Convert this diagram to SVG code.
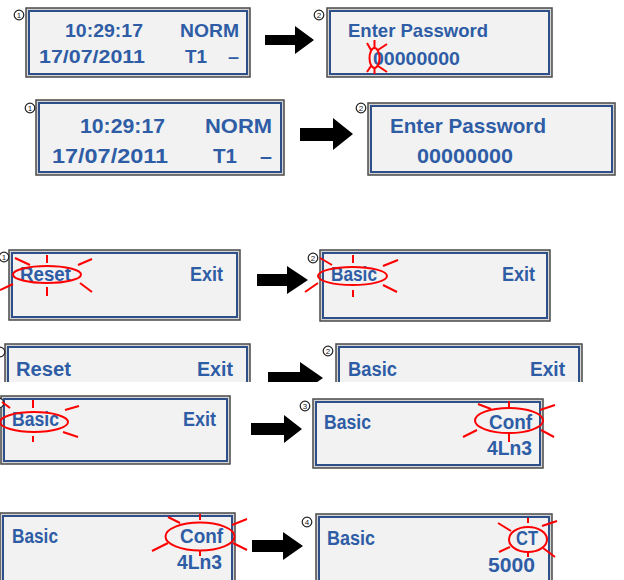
<svg xmlns="http://www.w3.org/2000/svg" width="624" height="580" viewBox="0 0 624 580">
<defs>
<style>
.ob{fill:#D4D4D4;stroke:#4A4A4A;stroke-width:1.5}
.ib{fill:#F2F2F2;stroke:#2F4F88;stroke-width:2}
.t{font-family:"Liberation Sans",Arial,sans-serif;font-weight:bold;fill:#2E5DA6;lengthAdjust:spacingAndGlyphs}
.n{fill:#fff;stroke:#222;stroke-width:1.2}
.nt{font-family:"Liberation Sans",Arial,sans-serif;font-size:8px;fill:#222;text-anchor:middle}
.hl{fill:none;stroke:#FF0000;stroke-width:2}
.ar{fill:#000}
</style>
<clipPath id="row4"><rect x="0" y="330" width="624" height="52"/></clipPath>
</defs>
<rect width="624" height="580" fill="#fff"/>

<g id="panel1">
<rect class="ob" x="26" y="8" width="224" height="69"/>
<rect class="ib" x="29" y="11" width="218" height="63"/>
<circle class="n" cx="19" cy="15" r="4.8"/><text class="nt" x="19" y="18">1</text>
<text class="t" font-size="18.5" x="65" y="37" textLength="78" lengthAdjust="spacingAndGlyphs">10:29:17</text>
<text class="t" font-size="18.5" x="180" y="37" textLength="59" lengthAdjust="spacingAndGlyphs">NORM</text>
<text class="t" font-size="18.5" x="39" y="63" textLength="106" lengthAdjust="spacingAndGlyphs">17/07/2011</text>
<text class="t" font-size="18.5" x="185" y="63" textLength="22" lengthAdjust="spacingAndGlyphs">T1</text>
<text class="t" font-size="18.5" x="228" y="63" textLength="11" lengthAdjust="spacingAndGlyphs">–</text>
</g>

<g id="panel2">
<rect class="ob" x="327" y="8" width="225" height="69"/>
<rect class="ib" x="330" y="11" width="219" height="63"/>
<circle class="n" cx="319" cy="15" r="4.8"/><text class="nt" x="319" y="18">2</text>
<text class="t" font-size="18.5" x="348" y="37" textLength="140" lengthAdjust="spacingAndGlyphs">Enter Password</text>
<text class="t" font-size="18.5" x="373" y="65" textLength="87" lengthAdjust="spacingAndGlyphs">00000000</text>
<g class="hl">
<ellipse cx="374.5" cy="58" rx="5" ry="10"/>
<line x1="367" y1="43" x2="371" y2="50"/><line x1="378" y1="50" x2="387" y2="44"/>
<line x1="367" y1="72" x2="371" y2="66"/><line x1="378" y1="66" x2="387" y2="72"/>
<line x1="374.5" y1="40" x2="374.5" y2="48"/><line x1="374.5" y1="68" x2="374.5" y2="74"/>
</g>
</g>

<g id="panel3">
<rect class="ob" x="36" y="100" width="248" height="75"/>
<rect class="ib" x="39" y="103" width="242" height="69"/>
<circle class="n" cx="30" cy="108" r="4.8"/><text class="nt" x="30" y="111">1</text>
<text class="t" font-size="21" x="80" y="133" textLength="85" lengthAdjust="spacingAndGlyphs">10:29:17</text>
<text class="t" font-size="21" x="205" y="133" textLength="67" lengthAdjust="spacingAndGlyphs">NORM</text>
<text class="t" font-size="21" x="52" y="163" textLength="116" lengthAdjust="spacingAndGlyphs">17/07/2011</text>
<text class="t" font-size="21" x="213" y="163" textLength="24" lengthAdjust="spacingAndGlyphs">T1</text>
<text class="t" font-size="21" x="260" y="163" textLength="12" lengthAdjust="spacingAndGlyphs">–</text>
</g>

<g id="panel4">
<rect class="ob" x="368" y="103" width="247" height="72"/>
<rect class="ib" x="371" y="106" width="241" height="66"/>
<circle class="n" cx="361" cy="108" r="4.8"/><text class="nt" x="361" y="111">2</text>
<text class="t" font-size="21" x="390" y="133" textLength="156" lengthAdjust="spacingAndGlyphs">Enter Password</text>
<text class="t" font-size="21" x="417" y="163" textLength="96" lengthAdjust="spacingAndGlyphs">00000000</text>
</g>

<g id="panel5">
<rect class="ob" x="9" y="250" width="231" height="70"/>
<rect class="ib" x="12" y="253" width="225" height="64"/>
<circle class="n" cx="4" cy="257" r="4.8"/><text class="nt" x="4" y="260">1</text>
<text class="t" font-size="20" x="20" y="281" textLength="51" lengthAdjust="spacingAndGlyphs">Reset</text>
<text class="t" font-size="20" x="190" y="281" textLength="33" lengthAdjust="spacingAndGlyphs">Exit</text>
<g class="hl">
<ellipse cx="47" cy="274.5" rx="34" ry="8.5"/>
<line x1="47" y1="255" x2="47" y2="263"/><line x1="47" y1="287" x2="47" y2="296"/>
<line x1="15" y1="258" x2="30" y2="265"/><line x1="78" y1="265" x2="92" y2="259"/>
<line x1="0" y1="290" x2="13" y2="284"/><line x1="80" y1="283" x2="92" y2="292"/>
</g>
</g>

<g id="panel6">
<rect class="ob" x="320" y="250" width="230" height="71"/>
<rect class="ib" x="323" y="253" width="224" height="65"/>
<circle class="n" cx="313" cy="258" r="4.8"/><text class="nt" x="313" y="261">2</text>
<text class="t" font-size="20" x="331" y="281" textLength="46" lengthAdjust="spacingAndGlyphs">Basic</text>
<text class="t" font-size="20" x="502" y="281" textLength="33" lengthAdjust="spacingAndGlyphs">Exit</text>
<g class="hl">
<ellipse cx="352.5" cy="276" rx="34.5" ry="9"/>
<line x1="353" y1="255" x2="353" y2="263"/><line x1="353" y1="290" x2="353" y2="297"/>
<line x1="320" y1="258" x2="332" y2="265"/><line x1="383" y1="266" x2="398" y2="260"/>
<line x1="305" y1="292" x2="318" y2="283"/><line x1="383" y1="285" x2="397" y2="292"/>
</g>
</g>

<g clip-path="url(#row4)">
<g id="panel7">
<rect class="ob" x="5" y="344" width="245" height="70"/>
<rect class="ib" x="8" y="347" width="239" height="64"/>
<circle class="n" cx="0" cy="352" r="4.8"/>
<text class="t" font-size="20" x="16" y="376" textLength="55" lengthAdjust="spacingAndGlyphs">Reset</text>
<text class="t" font-size="20" x="197" y="376" textLength="36" lengthAdjust="spacingAndGlyphs">Exit</text>
</g>
<g id="panel8">
<rect class="ob" x="336" y="344" width="246" height="70"/>
<rect class="ib" x="339" y="347" width="240" height="64"/>
<circle class="n" cx="328" cy="351" r="4.8"/><text class="nt" x="328" y="354">2</text>
<text class="t" font-size="20" x="348" y="376" textLength="49" lengthAdjust="spacingAndGlyphs">Basic</text>
<text class="t" font-size="20" x="530" y="376" textLength="35" lengthAdjust="spacingAndGlyphs">Exit</text>
</g>
<polygon id="arrow4" class="ar" points="268,372 300,372 300,362 323,378 300,394 300,384 268,384"/>
</g>

<g id="panel9">
<rect class="ob" x="1" y="396" width="229" height="68"/>
<rect class="ib" x="4" y="399" width="223" height="62"/>
<circle class="n" cx="-1" cy="403" r="4.8"/>
<text class="t" font-size="20" x="12" y="426" textLength="47" lengthAdjust="spacingAndGlyphs">Basic</text>
<text class="t" font-size="20" x="183" y="426" textLength="33" lengthAdjust="spacingAndGlyphs">Exit</text>
<g class="hl">
<ellipse cx="34" cy="422" rx="34" ry="10"/>
<line x1="33" y1="400" x2="33" y2="408"/><line x1="33" y1="436" x2="33" y2="442"/>
<line x1="2" y1="402" x2="10" y2="408"/><line x1="65" y1="410" x2="79" y2="406"/>
<line x1="63" y1="432" x2="78" y2="437"/>
</g>
</g>

<g id="panel10">
<rect class="ob" x="313" y="399" width="230" height="69"/>
<rect class="ib" x="316" y="402" width="224" height="63"/>
<circle class="n" cx="305" cy="406" r="4.8"/><text class="nt" x="305" y="409">3</text>
<text class="t" font-size="19.5" x="324" y="429" textLength="47" lengthAdjust="spacingAndGlyphs">Basic</text>
<text class="t" font-size="19.5" x="489" y="429" textLength="43" lengthAdjust="spacingAndGlyphs">Conf</text>
<text class="t" font-size="19.5" x="487" y="455" textLength="45" lengthAdjust="spacingAndGlyphs">4Ln3</text>
<g class="hl">
<ellipse cx="509" cy="420.5" rx="34" ry="12.5"/>
<line x1="509" y1="401" x2="509" y2="408"/><line x1="509" y1="433" x2="509" y2="442"/>
<line x1="478" y1="404" x2="491" y2="409"/><line x1="540" y1="410" x2="555" y2="405"/>
<line x1="463" y1="437" x2="477" y2="430"/><line x1="541" y1="430" x2="554" y2="437"/>
</g>
</g>

<g id="panel11">
<rect class="ob" x="0" y="513" width="235" height="72"/>
<rect class="ib" x="3" y="516" width="229" height="66"/>
<text class="t" font-size="20" x="12" y="543" textLength="46" lengthAdjust="spacingAndGlyphs">Basic</text>
<text class="t" font-size="20" x="180" y="543" textLength="43" lengthAdjust="spacingAndGlyphs">Conf</text>
<text class="t" font-size="20" x="177" y="569" textLength="45" lengthAdjust="spacingAndGlyphs">4Ln3</text>
<g class="hl">
<ellipse cx="200" cy="536.5" rx="34.5" ry="14"/>
<line x1="200" y1="514" x2="200" y2="520"/><line x1="200" y1="551" x2="200" y2="556"/>
<line x1="168" y1="517" x2="180" y2="523"/><line x1="232" y1="525" x2="247" y2="519"/>
<line x1="152" y1="551" x2="168" y2="543"/><line x1="233" y1="543" x2="247" y2="550"/>
</g>
</g>

<g id="panel12">
<rect class="ob" x="316" y="514" width="236" height="72"/>
<rect class="ib" x="319" y="517" width="230" height="66"/>
<circle class="n" cx="307" cy="522" r="4.8"/><text class="nt" x="307" y="525">4</text>
<text class="t" font-size="20" x="327" y="545" textLength="48" lengthAdjust="spacingAndGlyphs">Basic</text>
<text class="t" font-size="20" x="516" y="545" textLength="22" lengthAdjust="spacingAndGlyphs">CT</text>
<text class="t" font-size="20" x="488" y="572" textLength="47" lengthAdjust="spacingAndGlyphs">5000</text>
<g class="hl">
<ellipse cx="528" cy="539.5" rx="19" ry="12.5"/>
<line x1="528" y1="518" x2="528" y2="523"/><line x1="528" y1="552" x2="528" y2="557"/>
<line x1="498" y1="523" x2="511" y2="531"/><line x1="542" y1="526" x2="557" y2="521"/>
<line x1="499" y1="552" x2="510" y2="547"/><line x1="543" y1="548" x2="555" y2="557"/>
</g>
</g>

<g id="connectors">
<polygon class="ar" points="265,35 295,35 295,26 314,40 295,54 295,45 265,45"/>
<polygon class="ar" points="300,128 333,128 333,118 353,134 333,150 333,141 300,141"/>
<polygon class="ar" points="257,274 287,274 287,266 308,280 287,294 287,286 257,286"/>
<polygon class="ar" points="251,423 284,423 284,415 302,429 284,443 284,435 251,435"/>
<polygon class="ar" points="252,540 283,540 283,532 303,546 283,560 283,552 252,552"/>
</g>
</svg>
